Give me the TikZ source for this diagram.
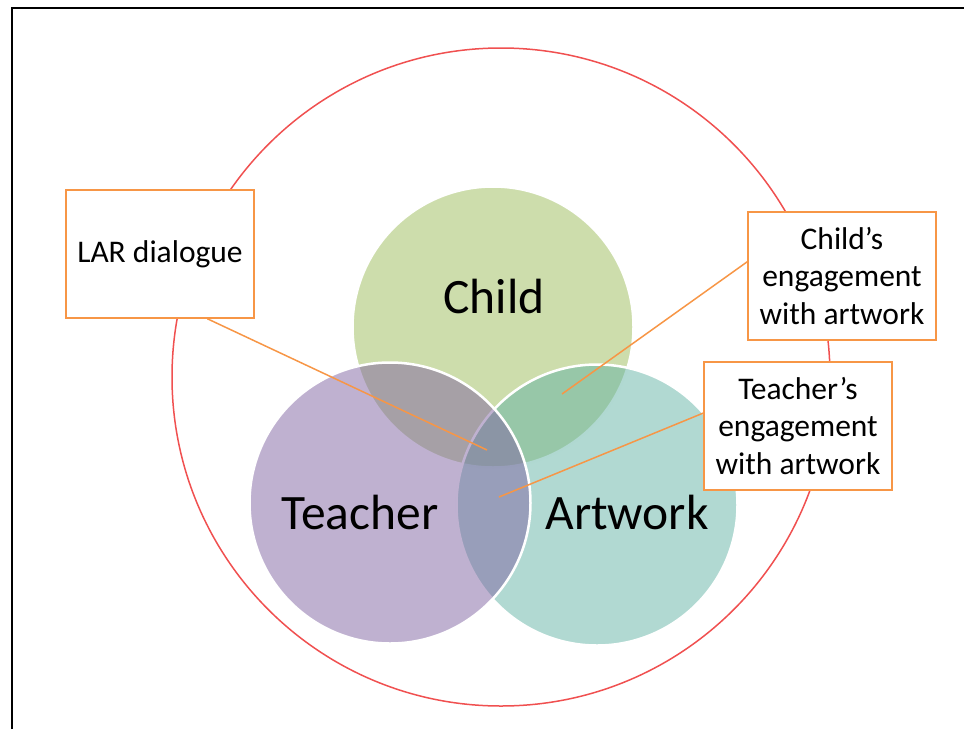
\documentclass[tikz,border=0pt]{standalone}
\usepackage{fontspec}
\setmainfont{Carlito}
\usetikzlibrary{calc}
\definecolor{ringred}{RGB}{240,80,80}
\definecolor{boxorange}{RGB}{247,150,70}
\definecolor{childgreen}{RGB}{155,187,89}
\definecolor{teacherpurple}{RGB}{128,100,162}
\definecolor{artteal}{RGB}{99,179,165}
\begin{document}
\begin{tikzpicture}[x=1pt,y=-1pt,
  venn/.style={circle,inner sep=0pt,minimum size=281pt,draw=white,line width=2.5pt,fill opacity=0.5},
  bigword/.style={font=\fontsize{49.5}{56}\selectfont,text=black},
  callout/.style={draw=boxorange,line width=1.5pt,fill=white,minimum width=188pt,minimum height=128pt,align=center,inner sep=0pt,font=\fontsize{31.5}{37.5}\selectfont},
  conn/.style={draw=boxorange,line width=1.5pt}]
\useasboundingbox (0,0) rectangle (964,729);
\draw[line width=2.2pt] (12,729) -- (12,8) -- (964,8);
\node[circle,inner sep=0pt,minimum size=658pt,draw=ringred,line width=1.5pt] (ring) at (501,377) {};
\node[venn,fill=childgreen] (child) at (493,327) {};
\node[venn,fill=artteal] (art) at (597,505) {};
\node[venn,fill=teacherpurple] (teacher) at (390,503) {};
\node[bigword] (childt) at (494,296) {Child};
\node[bigword] (teachert) at (360,512) {Teacher};
\node[bigword] (artt) at (627,512) {Artwork};
\node[callout] (lar) at (160,254) {LAR dialogue};
\node[callout] (childeng) at (842,276) {Child’s\\engagement\\with artwork};
\node[callout] (teacheng) at (798,426) {Teacher’s\\engagement\\with artwork};
\coordinate (larend) at (487,450);
\coordinate (childend) at (562,394);
\coordinate (teachend) at (499,497);
\draw[conn] ($(lar.south west)!0.75!(lar.south east)$) -- (larend);
\draw[conn] ($(childeng.north west)!0.39!(childeng.south west)$) -- (childend);
\draw[conn] ($(teacheng.north west)!0.4!(teacheng.south west)$) -- (teachend);
\end{tikzpicture}
\end{document}
